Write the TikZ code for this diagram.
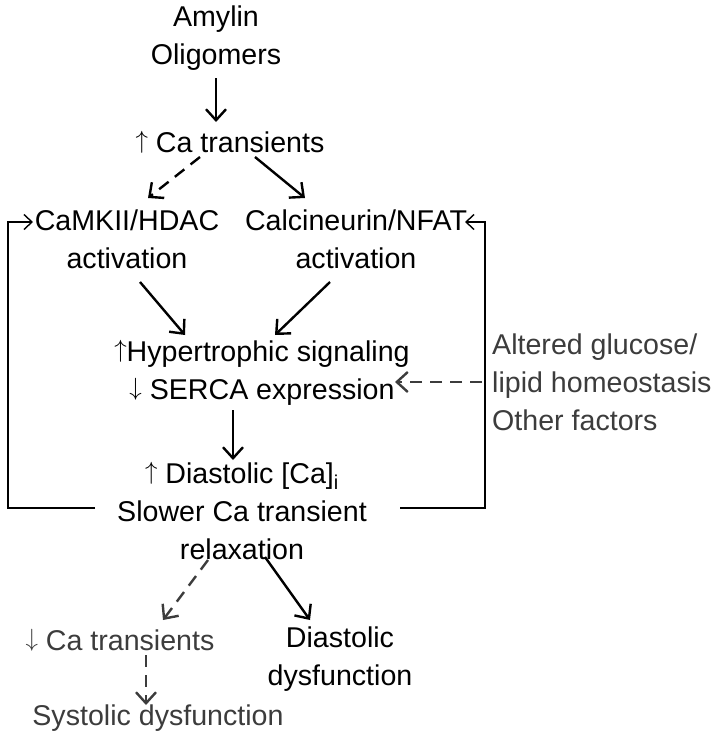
\documentclass[tikz,border=0pt]{standalone}
\usepackage{fontspec}
\setmainfont{Liberation Sans}
\usetikzlibrary{arrows.meta, positioning}
\definecolor{softgray}{HTML}{3C3C3C}
\newcommand{\upa}{\raisebox{.15em}{$\uparrow$}}
\newcommand{\dna}{\raisebox{.15em}{$\downarrow$}}
\tikzset{
    >={Straight Barb[length=11pt,width=20pt]}, % open v-shaped heads
    every node/.style={font=\fontsize{28.6}{38}\selectfont, align=center, inner sep=2pt},
    link/.style={line width=2.4pt, ->}, % plain causal link
    maybe/.style={link, dash pattern=on 12pt off 8pt}, % uncertain link
    faint/.style={text=softgray}, % secondary effects
    loopback/.style={line width=1.4pt, -{Straight Barb[length=8pt,width=15pt]}}, % feedback lines
}
\begin{document}
\begin{tikzpicture}[x=1pt, y=-1pt]
    \useasboundingbox (0,0) rectangle (718,739);

    \node (amylin) at (216,38) {Amylin\\Oligomers};
    \node (caup) at (230,142) {\upa{} Ca transients};
    \node (camk) at (127,239) {CaMKII/HDAC\\activation};
    \node (calc) at (356,239) {Calcineurin/NFAT\\activation};
    \node (hyper) at (262,373) {\upa Hypertrophic signaling\\\dna{} SERCA expression};
    \node (dia) at (242,511) {\upa{} Diastolic [Ca]\textsubscript{i}\\Slower Ca transient\\relaxation};
    \node[faint] (cadown) at (120,640) {\dna{} Ca transients};
    \node (diadys) at (340,659) {Diastolic\\dysfunction};
    \node[faint] (sys) at (158,718) {Systolic dysfunction};
    \node[faint, align=left, anchor=west] (alt) at (490,382) {Altered glucose/\\lipid homeostasis\\Other factors};

    \draw[link] ([shift={(0,40)}]amylin.center) -- ([shift={(-14,-20)}]caup.center);
    \draw[maybe] ([shift={(-30,15)}]caup.center) -- ([shift={(21,-41)}]camk.center);
    \draw[link] ([shift={(25,15)}]caup.center) -- ([shift={(-51,-41)}]calc.center);
    \draw[link] ([shift={(13,43)}]camk.center) -- ([shift={(-77,-38)}]hyper.center);
    \draw[link] ([shift={(-26,43)}]calc.center) -- ([shift={(13,-38)}]hyper.center);
    \draw[link] ([shift={(-29,37)}]hyper.center) -- ([shift={(-9,-51)}]dia.center);
    \draw[maybe, softgray] ([shift={(-34,49)}]dia.center) -- ([shift={(43,-20)}]cadown.center);
    \draw[link] ([shift={(23,46)}]dia.center) -- ([shift={(-30,-39)}]diadys.center);
    \draw[maybe, softgray] ([shift={(26,15)}]cadown.center) -- ([shift={(-12,-13)}]sys.center);
    \draw[maybe, softgray] ([shift={(-8,0)}]alt.west) -- ([shift={(133,9)}]hyper.center);

    % feedback from diastolic Ca to both pathways
    \draw[loopback] ([shift={(-147,-3)}]dia.center) -- ++(-87,0) |- ([shift={(-94,-17)}]camk.center);
    \draw[loopback] ([shift={(158,-3)}]dia.center) -- ++(85,0) |- ([shift={(109,-17)}]calc.center);
\end{tikzpicture}
\end{document}
